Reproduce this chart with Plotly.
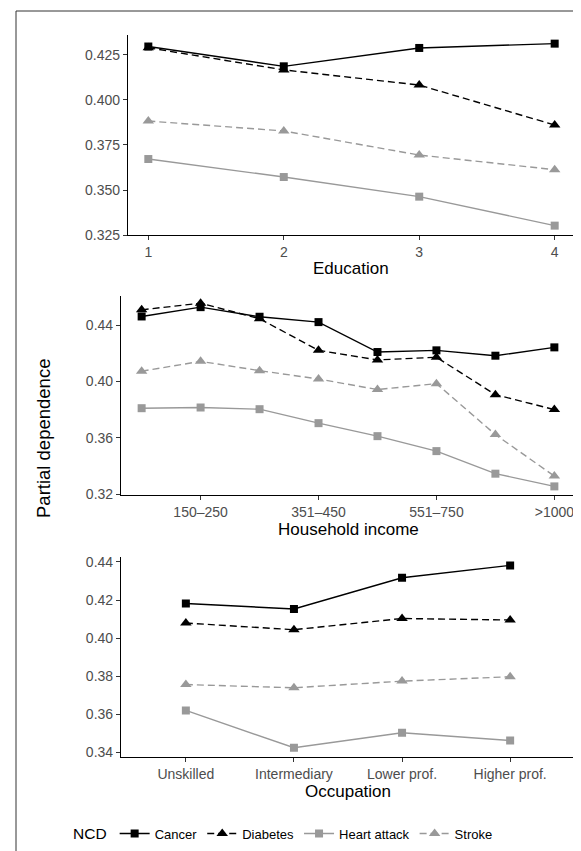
import plotly.graph_objects as go

W, H = 581, 851

# ---------------- data ----------------
series = ["Cancer", "Diabetes", "Heart attack", "Stroke"]

education = [1, 2, 3, 4]
edu_vals = {
    "Cancer":       [0.4297, 0.4187, 0.4289, 0.4313],
    "Diabetes":     [0.4290, 0.4167, 0.4083, 0.3861],
    "Heart attack": [0.3672, 0.3572, 0.3463, 0.3302],
    "Stroke":       [0.3883, 0.3828, 0.3694, 0.3613],
}

income = ["<150", "150–250", "251–350", "351–450", "451–550", "551–750", "751–1000", ">1000"]
income_ticks = ["150–250", "351–450", "551–750", ">1000"]
inc_vals = {
    "Cancer":       [0.4461, 0.4527, 0.4459, 0.4421, 0.4209, 0.4221, 0.4183, 0.4242],
    "Diabetes":     [0.4508, 0.4555, 0.4445, 0.4221, 0.4153, 0.4172, 0.3907, 0.3801],
    "Heart attack": [0.3811, 0.3816, 0.3804, 0.3705, 0.3613, 0.3507, 0.3347, 0.3257],
    "Stroke":       [0.4073, 0.4143, 0.4077, 0.4018, 0.3943, 0.3985, 0.3624, 0.3330],
}

occupation = ["Unskilled", "Intermediary", "Lower prof.", "Higher prof."]
occ_vals = {
    "Cancer":       [0.4182, 0.4153, 0.4317, 0.4382],
    "Diabetes":     [0.4079, 0.4044, 0.4103, 0.4095],
    "Heart attack": [0.3620, 0.3424, 0.3503, 0.3462],
    "Stroke":       [0.3756, 0.3739, 0.3774, 0.3797],
}

edu_yticks = [0.325, 0.350, 0.375, 0.400, 0.425]
inc_yticks = [0.32, 0.36, 0.40, 0.44]
occ_yticks = [0.34, 0.36, 0.38, 0.40, 0.42, 0.44]

# ---------------- styles ----------------
GRAY = "#999999"
style = {
    "Cancer":       dict(color="black", dash="solid", symbol="square", size=8),
    "Diabetes":     dict(color="black", dash="7px,4px", symbol="triangle-up", size=10),
    "Heart attack": dict(color=GRAY, dash="solid", symbol="square", size=8),
    "Stroke":       dict(color=GRAY, dash="7px,4px", symbol="triangle-up", size=10),
}
FONT = "Liberation Sans, Arial, Helvetica, sans-serif"

def px_x(p):
    return p / W

def px_y(p):
    return (H - p) / H

fig = go.Figure()

panels = [
    ("x", "y", education, edu_vals),
    ("x2", "y2", income, inc_vals),
    ("x3", "y3", occupation, occ_vals),
]

for pi, (xa, ya, xs, vals) in enumerate(panels):
    for s in series:
        st = style[s]
        fig.add_trace(go.Scatter(
            x=xs, y=vals[s], mode="lines+markers", name=s,
            xaxis=xa, yaxis=ya, showlegend=(pi == 0), legendgroup=s,
            line=dict(color=st["color"], width=1.4, dash=st["dash"]),
            marker=dict(symbol=st["symbol"], size=st["size"], color=st["color"]),
            hoverinfo="x+y+name",
        ))

axis_common = dict(
    showgrid=False, zeroline=False, showline=True, linecolor="black", linewidth=1.2,
    ticks="outside", ticklen=4, tickwidth=1, tickcolor="#333333",
    tickfont=dict(family=FONT, size=14, color="#4d4d4d"), automargin=False,
)

fig.update_layout(
    width=W, height=H,
    margin=dict(l=0, r=0, t=0, b=0),
    paper_bgcolor="white", plot_bgcolor="white",
    font=dict(family=FONT, color="black"),
    xaxis=dict(axis_common, domain=[px_x(120), px_x(567)], range=[0.85, 4.15],
               tickmode="array", tickvals=education, anchor="y"),
    yaxis=dict(axis_common, domain=[px_y(227), px_y(27)], range=[0.325, 0.4361],
               tickmode="array", tickvals=edu_yticks,
               ticktext=[f"{v:.3f}" for v in edu_yticks], anchor="x"),
    xaxis2=dict(axis_common, domain=[px_x(113), px_x(567)], type="category",
                categoryorder="array", categoryarray=income, range=[-0.35, 7.35],
                tickmode="array", tickvals=income_ticks, ticktext=income_ticks, anchor="y2"),
    yaxis2=dict(axis_common, domain=[px_y(487), px_y(288)], range=[0.3196, 0.4606],
                tickmode="array", tickvals=inc_yticks,
                ticktext=[f"{v:.2f}" for v in inc_yticks], anchor="x2"),
    xaxis3=dict(axis_common, domain=[px_x(113), px_x(567)], type="category",
                categoryorder="array", categoryarray=occupation, range=[-0.6, 3.6],
                anchor="y3"),
    yaxis3=dict(axis_common, domain=[px_y(748.7), px_y(549)], range=[0.3377, 0.4426],
                tickmode="array", tickvals=occ_yticks,
                ticktext=[f"{v:.2f}" for v in occ_yticks], anchor="x3"),
    legend=dict(orientation="h", x=0.476, xanchor="center", y=px_y(826), yanchor="middle",
                title=dict(text="NCD", font=dict(family=FONT, size=15.5, color="black"), side="left"),
                font=dict(family=FONT, size=13, color="black"),
                itemwidth=30, tracegroupgap=0, bgcolor="rgba(0,0,0,0)"),
)

titles = [("Education", (120 + 567) / 2, 260), ("Household income", (113 + 567) / 2, 521),
          ("Occupation", (113 + 567) / 2, 783)]
for t, xp, yp in titles:
    fig.add_annotation(text=t, x=px_x(xp), y=px_y(yp), xref="paper", yref="paper",
                       showarrow=False, xanchor="center", yanchor="middle",
                       font=dict(family=FONT, size=17, color="black"))

fig.add_annotation(text="Partial dependence", x=px_x(35), y=px_y(431), xref="paper", yref="paper",
                   showarrow=False, textangle=-90, xanchor="center", yanchor="middle",
                   font=dict(family=FONT, size=18.5, color="black"))

# outer frame (left and top edges visible)
fig.add_shape(type="line", xref="paper", yref="paper", x0=px_x(8), x1=px_x(8),
              y0=0, y1=px_y(3), line=dict(color="#333333", width=1))
fig.add_shape(type="line", xref="paper", yref="paper", x0=px_x(8), x1=1,
              y0=px_y(3), y1=px_y(3), line=dict(color="#333333", width=1))

fig.write_html("out.html")
